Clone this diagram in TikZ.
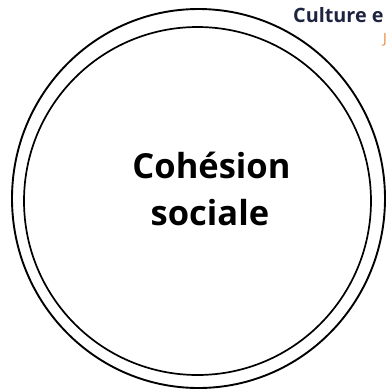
\documentclass[tikz,border=0pt]{standalone}
\usepackage{fontspec}
\setmainfont{Open Sans}
\usetikzlibrary{positioning}
\definecolor{titlenavy}{RGB}{30,36,64}
\definecolor{suborange}{RGB}{232,135,58}

\begin{document}
\begin{tikzpicture}[x=1pt, y=-1pt]
        \useasboundingbox (0,0) rectangle (387,392);
        \clip (0,0) rectangle (387,392);
        % double ring
        \draw[line width=1.9pt] (198.5,198.5) ellipse [x radius=186.5, y radius=189.5];
        \draw[line width=1.7pt] (197.5,201) ellipse [x radius=173.5, y radius=174];
        \node[anchor=base, inner sep=0pt, font=\fontsize{34.5}{41}\selectfont\bfseries] (coh) at (211.5,178) {Cohésion};
        \node[anchor=base, inner sep=0pt, font=\fontsize{34.5}{41}\selectfont\bfseries] (soc) at (210,225) {sociale};
        \node[anchor=base west, inner sep=0pt, text=titlenavy, font=\fontsize{19.8}{23}\selectfont\bfseries] (cult) at (293,22) {Culture e};
        \node[anchor=base west, inner sep=0pt, text=suborange, font=\fontsize{14}{17}\selectfont] (sub) at (383,43) {J};
\end{tikzpicture}
\end{document}
